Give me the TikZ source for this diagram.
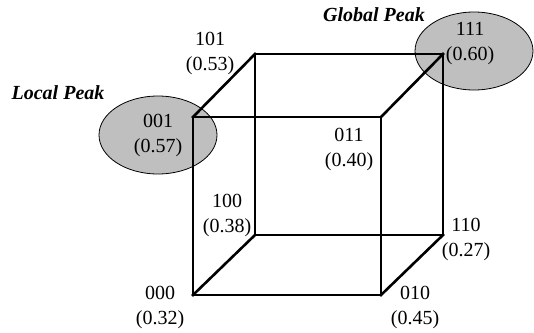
\documentclass[tikz,border=0pt]{standalone}
\usepackage{fontspec}
\setmainfont{Liberation Serif}
\usetikzlibrary{shapes.geometric}
\definecolor{peakgray}{HTML}{BFBFBF}
\tikzset{peakblob/.style={
  shape=ellipse,
  draw=black,
  fill=peakgray,
  line width=0.8pt,
  minimum width=118pt,
  minimum height=78pt,
  inner sep=0pt,
  },
  vlabel/.style={
  align=center,
  inner sep=0pt,
  font=\fontsize{20}{25}\selectfont,
  },
  peaktext/.style={
  inner sep=0pt,
  font=\fontsize{20}{25}\selectfont\bfseries\itshape,
  },
  cubeedge/.style={
  line width=2.6pt,
  line cap=rect,
  },
}

\begin{document}
\begin{tikzpicture}[x=1pt,y=-1pt]
  \useasboundingbox (0,0) rectangle (534,332);
  % peaks
  \node[peakblob] (e001) at (158,135) {};
  \node[peakblob] (e111) at (474,51) {};
  % corners of the cube
  \coordinate (v000) at (193,295);
  \coordinate (v001) at (193,117);
  \coordinate (v011) at (381,117);
  \coordinate (v010) at (381,295);
  \coordinate (v100) at (255,235);
  \coordinate (v101) at (255,54);
  \coordinate (v111) at (443,54);
  \coordinate (v110) at (443,235);
  % edges
  \draw[cubeedge] (v000) -- (v001) -- (v011) -- (v010) -- cycle;
  \draw[cubeedge] (v100) -- (v101) -- (v111) -- (v110) -- cycle;
  \draw[cubeedge] (v000) -- (v100);
  \draw[cubeedge] (v001) -- (v101);
  \draw[cubeedge] (v011) -- (v111);
  \draw[cubeedge] (v010) -- (v110);
  % labels
  \node[vlabel] (l101) at (210,53) {101\\(0.53)};
  \node[vlabel] (l001) at (158,135) {001\\(0.57)};
  \node[vlabel] (l100) at (227,215) {100\\(0.38)};
  \node[vlabel] (l000) at (160,307) {000\\(0.32)};
  \node[vlabel] (l111) at (470,44) {111\\(0.60)};
  \node[vlabel] (l011) at (349,149) {011\\(0.40)};
  \node[vlabel] (l110) at (466,239) {110\\(0.27)};
  \node[vlabel] (l010) at (415,307) {010\\(0.45)};
  \node[peaktext] (local) at (58,93) {Local Peak};
  \node[peaktext] (global) at (374,15) {Global Peak};
\end{tikzpicture}
\end{document}
